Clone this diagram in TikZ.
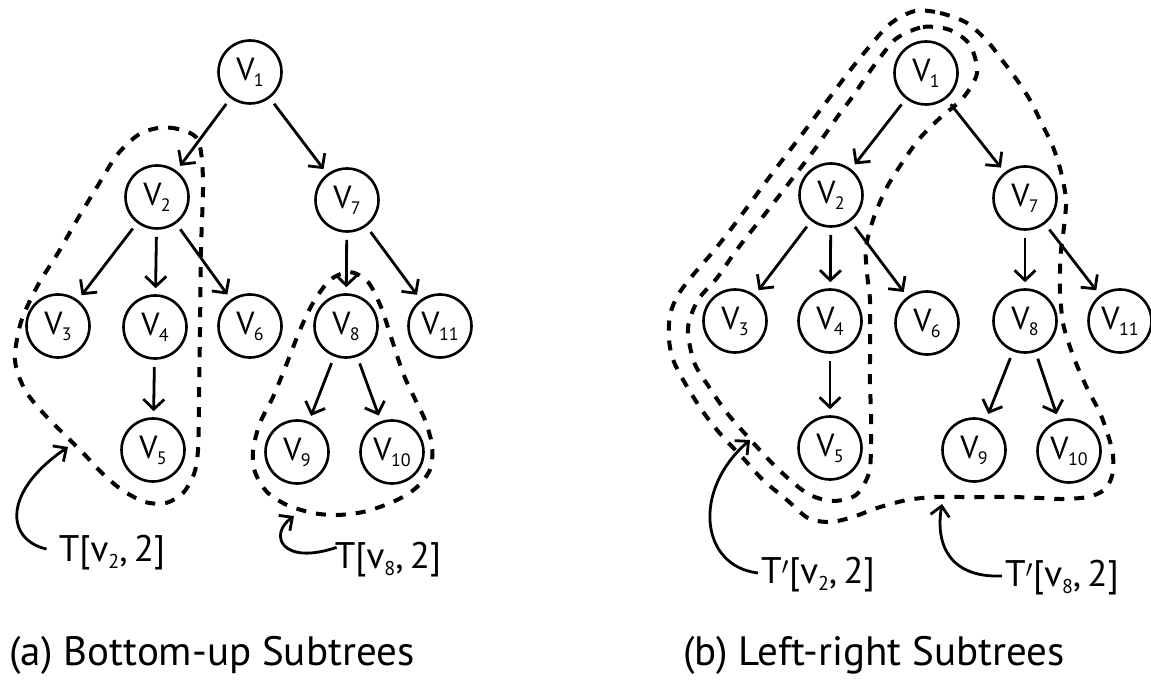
\documentclass[tikz,border=0pt]{standalone}
\usepackage{fontspec}
\setmainfont{PT Sans}
\usetikzlibrary{arrows.meta}
% vertex name with subscript
\newcommand{\vx}[1]{V\kern-0.5pt\raisebox{-6pt}{\fontsize{18}{18}\selectfont #1}}
% small v with subscript inside the subtree labels
\newcommand{\lv}[1]{v\raisebox{-7pt}{\fontsize{20}{20}\selectfont #1}}
\begin{document}
\begin{tikzpicture}[x=1pt,y=-1pt,
  vert/.style={circle,draw,line width=2.6pt,minimum size=63pt,inner sep=0pt,
               font=\fontsize{32}{32}\selectfont},
  edge/.style={line width=2.8pt,-{Straight Barb[length=10pt,width=21pt,line width=2.8pt]},
               shorten >=6pt,shorten <=7pt},
  pointer/.style={line width=2.8pt,-{Straight Barb[length=10pt,width=19pt,line width=2.8pt]}},
  region/.style={line width=4pt,dash pattern=on 10pt off 10pt},
  lab/.style={font=\fontsize{37}{37}\selectfont,inner sep=0pt},
  caption/.style={font=\fontsize{41}{41}\selectfont,inner sep=0pt}]
\fill[white] (0,0) rectangle (1151,692);
\useasboundingbox (0,0) rectangle (1151,692);

% ---------- (a) bottom-up subtrees ----------
\node[vert] (a1)  at (250,72)  {\vx{1}};
\node[vert] (a2)  at (157,197) {\vx{2}};
\node[vert] (a7)  at (347,200) {\vx{7}};
\node[vert] (a3)  at (58,326)  {\vx{3}};
\node[vert] (a4)  at (155,327) {\vx{4}};
\node[vert] (a6)  at (250,326) {\vx{6}};
\node[vert] (a8)  at (346,326) {\vx{8}};
\node[vert] (a11) at (440,326) {\vx{11}};
\node[vert] (a5)  at (153,450) {\vx{5}};
\node[vert] (a9)  at (297,452) {\vx{9}};
\node[vert] (a10) at (392,452) {\vx{10}};

\draw[edge] (a1) -- (a2);
\draw[edge] (a1) -- (a7);
\draw[edge] (a2) -- (a3);
\draw[edge] (a2) -- (a4);
\draw[edge] (a2) -- (a6);
\draw[edge] (a4) -- (a5);
\draw[edge] (a7) -- (a8);
\draw[edge] (a7) -- (a11);
\draw[edge] (a8) -- (a9);
\draw[edge] (a8) -- (a10);

% T[v2,2]
\draw[region] plot[smooth cycle] coordinates {
  (198,140) (178,129) (158,128) (138,135) (117,155) (97,187) (77,220) (58,253)
  (38,285) (21,322) (15,360) (25,390) (45,415) (67,437) (85,455) (102,473)
  (122,490) (145,502) (166,503) (183,493) (194,474) (198,450) (199,400)
  (200,330) (201,250) (203,180)};
% T[v8,2]
\draw[region] plot[smooth cycle] coordinates {
  (350,272) (368,282) (381,307) (391,337) (403,373) (414,397) (425,420)
  (432,445) (431,467) (422,482) (408,494) (388,504) (363,512) (337,515)
  (313,513) (287,505) (267,492) (255,472) (253,450) (260,423) (273,397)
  (287,363) (300,330) (313,303) (330,280)};

\node[lab] (la) at (112,553) {T[\lv{2},\,2]};
\node[lab] (lb) at (388,560) {T[\lv{8},\,2]};
\coordinate (ta) at (68,447);
\coordinate (tb) at (294,516);
\draw[pointer] (la.west) ++(-12,-4) coordinate (sa) .. controls (6,540) and (2,492) .. (ta);
\draw[pointer] (lb.north west) ++(2,5) coordinate (sb) .. controls (282,566) and (268,535) .. (tb);

\node[caption] (ca) at (212,655) {(a) Bottom-up Subtrees};

% ---------- (b) left-right subtrees ----------
\node[vert] (b1)  at (926,73)  {\vx{1}};
\node[vert] (b2)  at (831,195) {\vx{2}};
\node[vert] (b7)  at (1025,198) {\vx{7}};
\node[vert] (b3)  at (735,321) {\vx{3}};
\node[vert] (b4)  at (830,321) {\vx{4}};
\node[vert] (b6)  at (927,323) {\vx{6}};
\node[vert] (b8)  at (1025,321) {\vx{8}};
\node[vert] (b11) at (1120,321) {\vx{11}};
\node[vert] (b5)  at (830,448) {\vx{5}};
\node[vert] (b9)  at (974,450) {\vx{9}};
\node[vert] (b10) at (1069,451) {\vx{10}};

\draw[edge] (b1) -- (b2);
\draw[edge] (b1) -- (b7);
\draw[edge] (b2) -- (b3);
\draw[edge] (b2) -- (b4);
\draw[edge] (b2) -- (b6);
\draw[edge] (b4) -- (b5);
\draw[edge] (b7) -- (b8);
\draw[edge] (b7) -- (b11);
\draw[edge] (b8) -- (b9);
\draw[edge] (b8) -- (b10);

% T'[v8,2]: everything but v11
\draw[region] plot[smooth cycle] coordinates {
  (915,11) (940,13) (967,23) (988,42) (1002,60) (1017,80) (1030,100) (1041,122)
  (1053,147) (1061,172) (1066,200) (1064,227) (1061,250) (1060,270) (1060,293)
  (1063,323) (1070,347) (1078,368) (1088,390) (1100,413) (1108,435) (1113,455)
  (1112,476) (1104,490) (1088,497) (1063,499) (1040,498) (1013,497) (987,497)
  (960,497) (935,497) (907,500) (877,508) (853,517) (830,522) (808,518)
  (787,500) (763,480) (743,458) (723,437) (706,416) (689,390) (674,362)
  (669,340) (670,315) (678,295) (693,275) (712,253) (728,233) (743,213)
  (771,175) (800,137) (815,117) (830,97) (845,77) (864,53) (890,24)};
% T'[v2,2]: v1 with the first subtree
\draw[region] plot[smooth cycle] coordinates {
  (897,38) (923,27) (950,30) (970,45) (977,73) (963,98) (940,118) (920,138)
  (904,160) (887,187) (874,217) (866,247) (867,273) (870,300) (870,330)
  (870,357) (870,385) (871,413) (871,445) (869,473) (856,495) (833,501)
  (810,495) (790,480) (770,461) (748,437) (727,413) (709,387) (694,362)
  (688,328) (698,300) (717,278) (733,255) (749,234) (765,214) (789,183)
  (812,153) (824,136) (838,116) (853,96) (868,74) (882,55)};

\node[lab] (lc) at (818,575) {T$'$[\lv{2},\,2]};
\node[lab] (ld) at (1062,578) {T$'$[\lv{8},\,2]};
\coordinate (tc) at (750,440);
\coordinate (td) at (942,504);
\draw[pointer] (lc.west) ++(-3,-2) coordinate (sc) .. controls (700,566) and (692,490) .. (tc);
\draw[pointer] (ld.west) ++(-3,-2) coordinate (sd) .. controls (950,578) and (935,545) .. (td);

\node[caption] (cb) at (874,655) {(b) Left-right Subtrees};
\end{tikzpicture}
\end{document}
